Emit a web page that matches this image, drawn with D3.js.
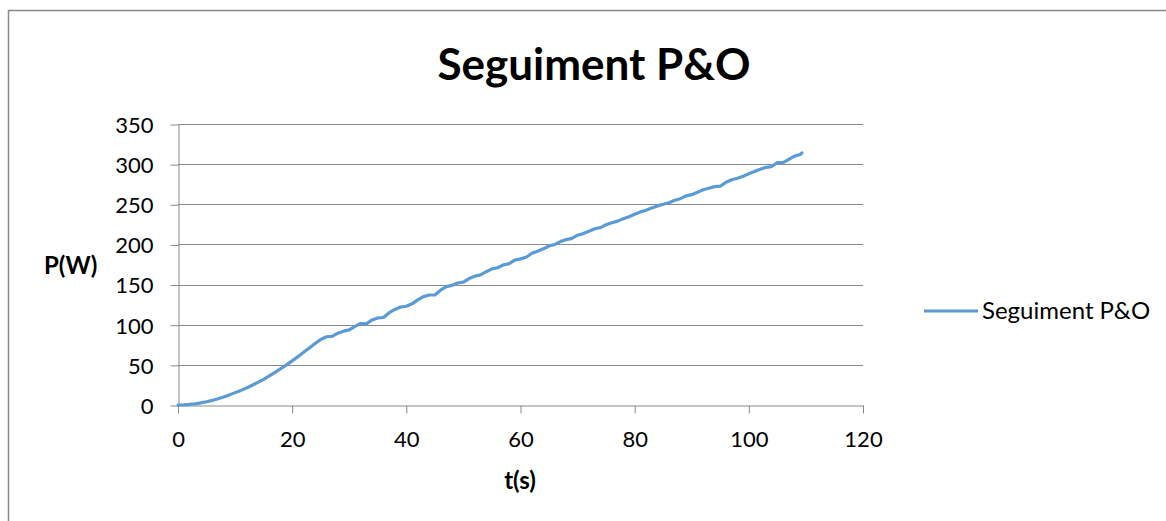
<!DOCTYPE html>
<html>
<head>
<meta charset="utf-8">
<script src="https://cdn.jsdelivr.net/npm/d3@7"></script>
<style>
  html, body { margin: 0; padding: 0; background: #ffffff; }
  svg { display: block; font-family: Lato, "Open Sans", sans-serif; }
</style>
</head>
<body>
<svg id="chart" width="1166" height="521"></svg>
<script>
// Time samples (s)
const timeS = [
  0, 1, 2, 3, 4, 5, 6, 7, 8, 9,
  10, 11, 12, 13, 14, 15, 16, 17, 18, 19,
  20, 21, 22, 23, 24, 25, 26, 27, 28, 29,
  30, 31, 32, 33, 34, 35, 36, 37, 38, 39,
  40, 41, 42, 43, 44, 45, 46, 47, 48, 49,
  50, 51, 52, 53, 54, 55, 56, 57, 58, 59,
  60, 61, 62, 63, 64, 65, 66, 67, 68, 69,
  70, 71, 72, 73, 74, 75, 76, 77, 78, 79,
  80, 81, 82, 83, 84, 85, 86, 87, 88, 89,
  90, 91, 92, 93, 94, 95, 96, 97, 98, 99,
  100, 101, 102, 103, 104, 105, 106, 107, 108, 109, 109.3
];

// Extracted power P (W) with the P&O tracker
const powerW = [
  0.0, 0.2, 0.7, 1.5, 2.6, 4.0, 5.7, 7.7, 10.0, 12.6,
  15.4, 18.2, 21.2, 24.6, 28.2, 32.0, 36.2, 40.6, 45.2, 50.0,
  55.0, 60.2, 65.6, 71.0, 76.5, 81.6, 85.0, 85.5, 89.5, 92.0,
  93.5, 98.0, 101.5, 101.0, 106.0, 108.5, 109.0, 115.0, 119.0, 122.0,
  123.0, 126.0, 131.0, 135.0, 137.0, 137.0, 143.0, 147.5, 149.0, 152.0,
  153.0, 157.5, 160.5, 162.0, 166.0, 169.5, 171.0, 174.5, 176.0, 180.5,
  182.0, 184.0, 189.0, 191.5, 194.5, 198.0, 200.0, 203.5, 206.0, 207.5,
  211.5, 213.5, 216.5, 219.5, 221.0, 224.5, 227.0, 229.0, 232.0, 234.5,
  237.5, 240.5, 242.5, 245.5, 248.0, 250.0, 252.0, 255.0, 257.0, 260.5,
  262.0, 265.0, 268.0, 270.0, 272.0, 272.5, 277.5, 280.5, 282.5, 285.0,
  288.0, 291.0, 293.5, 296.0, 297.0, 302.0, 302.0, 306.0, 310.0, 312.0, 314.0
];

const xTicks = [0, 20, 40, 60, 80, 100, 120];
const yTicks = [0, 50, 100, 150, 200, 250, 300, 350];
const seriesName = "Seguiment P&O";
const chartTitle = "Seguiment P&O";
const xLabel = "t(s)";
const yLabel = "P(W)";

const svg = d3.select("#chart");
const grey = "#898989";
const lineColor = "#5b9bd5";

// Chart area frame
svg.append("path")
  .attr("d", "M8.5,521 V10.5 H1166")
  .attr("fill", "none")
  .attr("stroke", grey)
  .attr("stroke-width", 1.5);

const x = d3.scaleLinear().domain([0, 120]).range([178, 863]);
const y = d3.scaleLinear().domain([0, 350]).range([405, 124]);

// Horizontal gridlines
svg.append("g")
  .selectAll("line")
  .data(yTicks.filter(v => v !== 0))
  .join("line")
  .attr("x1", x(0)).attr("x2", x(120))
  .attr("y1", d => Math.round(y(d)) + 0.5)
  .attr("y2", d => Math.round(y(d)) + 0.5)
  .attr("stroke", grey)
  .attr("stroke-width", 1);

// Y axis
const yAxis = svg.append("g")
  .attr("transform", `translate(${x(0) + 0.5},0.5)`)
  .call(d3.axisLeft(y).tickValues(yTicks).tickSize(8).tickPadding(18).tickSizeOuter(0));

// X axis
const xAxis = svg.append("g")
  .attr("transform", `translate(0,${Math.round(y(0)) + 0.5})`)
  .call(d3.axisBottom(x).tickValues(xTicks).tickSize(8).tickPadding(18).tickSizeOuter(0));

[yAxis, xAxis].forEach(g => {
  g.select(".domain").attr("stroke", grey).attr("stroke-width", 1);
  g.selectAll(".tick line").attr("stroke", grey).attr("stroke-width", 1);
  g.selectAll(".tick text")
    .attr("fill", "#000")
    .style("font-family", "Lato, sans-serif")
    .style("font-size", "22px");
});
yAxis.selectAll(".tick text").attr("x", -25).attr("dy", "0.36em");
xAxis.selectAll(".tick text").attr("y", 26).attr("dy", "0.71em");

// Power curve
const points = timeS.map((t, i) => [t, powerW[i]]);
svg.append("path")
  .datum(points)
  .attr("fill", "none")
  .attr("stroke", lineColor)
  .attr("stroke-width", 3.2)
  .attr("stroke-linejoin", "round")
  .attr("stroke-linecap", "round")
  .attr("d", d3.line().x(d => x(d[0])).y(d => y(d[1])));

// Title
svg.append("text")
  .attr("x", 594).attr("y", 80)
  .attr("text-anchor", "middle")
  .style("font-weight", "bold")
  .style("font-size", "44px")
  .attr("fill", "#000")
  .text(chartTitle);

// Axis titles
svg.append("text")
  .attr("x", 44).attr("y", 274)
  .style("font-weight", "bold")
  .style("font-size", "24px")
  .attr("fill", "#000")
  .text(yLabel);

svg.append("text")
  .attr("x", 520).attr("y", 489)
  .attr("text-anchor", "middle")
  .style("font-weight", "bold")
  .style("font-size", "24px")
  .attr("fill", "#000")
  .text(xLabel);

// Legend
const legend = svg.append("g").attr("transform", "translate(924,311)");
legend.append("line")
  .attr("x1", 0).attr("x2", 54)
  .attr("stroke", lineColor)
  .attr("stroke-width", 3.2);
legend.append("text")
  .attr("x", 58).attr("y", 8)
  .style("font-size", "24px")
  .attr("fill", "#000")
  .text(seriesName);
</script>
</body>
</html>
